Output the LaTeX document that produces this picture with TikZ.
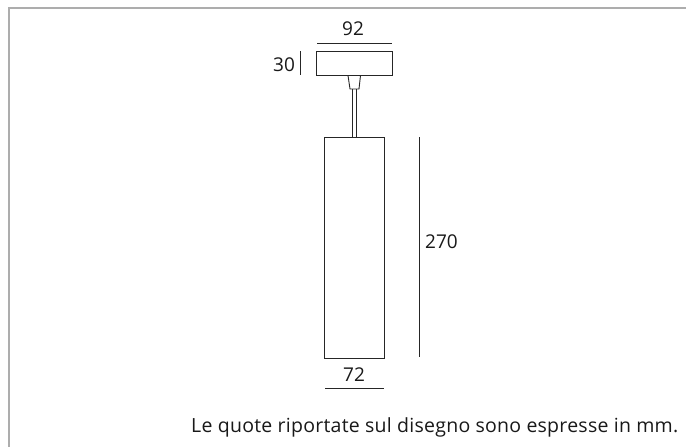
\documentclass[tikz,border=0pt]{standalone}
\usepackage{fontspec}
\setmainfont{Open Sans}
\newfontfamily\notefont[LetterSpace=1.3]{Open Sans}
\begin{document}
\begin{tikzpicture}[x=1pt,y=-1pt,
  framing/.style={draw=black!32,line width=1.2pt},
  part/.style={draw=black!85,line width=0.9pt},
  dimline/.style={draw=black!85,line width=0.8pt},
  label/.style={inner sep=0pt,text=black!90,font=\fontsize{19}{22}\selectfont},
  note/.style={inner sep=0pt,text=black!90,font=\notefont\fontsize{19.5}{22}\selectfont}]
\useasboundingbox[fill=white] (0,0) rectangle (686,447);
\coordinate (frameBL) at (9,447);
\coordinate (frameTL) at (9,8);
\coordinate (frameTR) at (686,8);
\draw[framing] (frameBL) -- (frameTL) -- (frameTR);
% canopy
\draw[part] (316.5,51) rectangle (392,75);
% connector
\draw[part] (348,75.5) -- (350,89) -- (359,89) -- (360.5,75.5);
% stem
\draw[part] (352,89) -- (352,137);
\draw[part] (356.5,89) -- (356.5,137);
% cylinder
\draw[part] (324.5,137) rectangle (384,358.5);
% dimension lines
\coordinate (d92a) at (317,43); \coordinate (d92b) at (391.5,43);
\coordinate (d30a) at (300,51); \coordinate (d30b) at (300,75);
\coordinate (d270a) at (419,137); \coordinate (d270b) at (419,356.5);
\coordinate (d72a) at (325,388.5); \coordinate (d72b) at (384,388.5);
\draw[dimline] (d92a) -- (d92b);
\draw[dimline] (d30a) -- (d30b);
\draw[dimline] (d270a) -- (d270b);
\draw[dimline] (d72a) -- (d72b);
% labels
\node[label] (l92) at (353,29) {92};
\node[label] (l30) at (284,64.5) {30};
\node[label] (l270) at (441.5,242) {270};
\node[label] (l72) at (354,375) {72};
\node[note,anchor=west] (n) at (191,427) {Le quote riportate sul disegno sono espresse in mm.};
\end{tikzpicture}
\end{document}
